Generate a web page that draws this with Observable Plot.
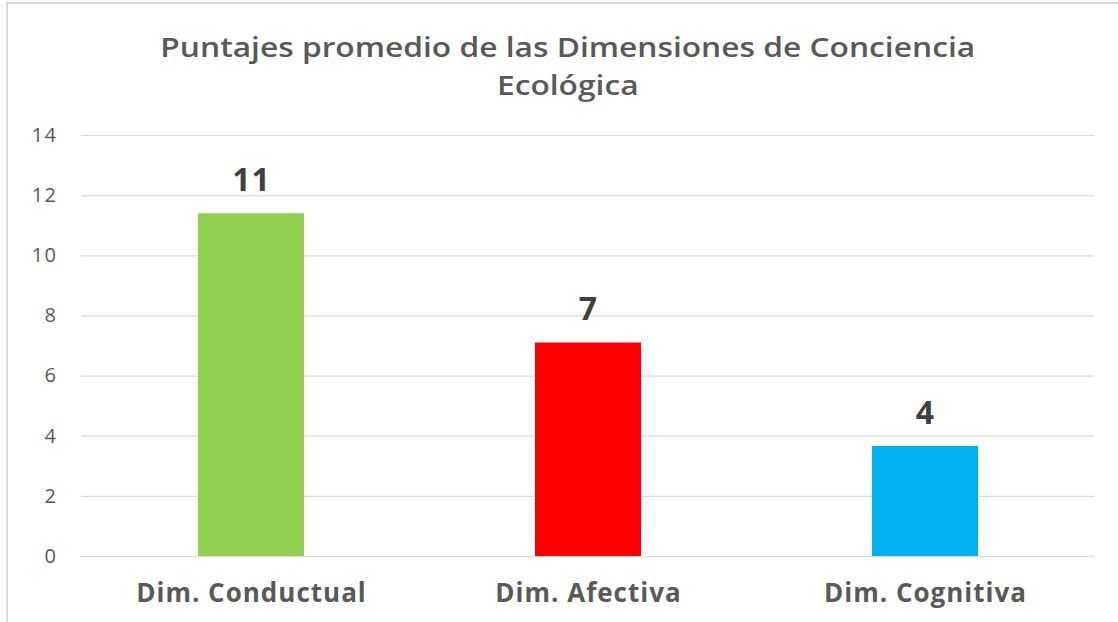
<!DOCTYPE html>
<html>
<head>
<meta charset="utf-8">
<script src="https://cdn.jsdelivr.net/npm/d3@7"></script>
<script src="https://cdn.jsdelivr.net/npm/@observablehq/plot@0.6"></script>
<style>
  html, body { margin: 0; padding: 0; background: #fff; overflow: hidden; }
  #frame { position: absolute; left: 6px; top: 2px; width: 1200px; height: 700px;
           border-left: 2px solid #d9d9d9; border-top: 2px solid #d9d9d9; box-sizing: border-box; }
  #wrap { position: absolute; left: 0; top: 0; width: 1118px; height: 622px; }
  #title { height: 115px; box-sizing: border-box; padding-top: 28px; text-align: center;
           font-family: "Open Sans", sans-serif; font-weight: 600; font-size: 27px;
           line-height: 38px; color: #595959; padding-left: 18px; }
  #title span { display: inline-block; transform: scaleX(1.175); }
  g[aria-label="y-axis tick label"] text { letter-spacing: 1.5px; }
  g[aria-label="x-axis tick label"] text { letter-spacing: 1px; }
  g[aria-label="text"] text { letter-spacing: 1px; }
</style>
</head>
<body>
<div id="frame"></div>
<div id="wrap">
  <div id="title"><span>Puntajes promedio de las Dimensiones de Conciencia<br>Ecológica</span></div>
  <div id="chart"></div>
</div>
<script>
const categories = ["Dim. Conductual", "Dim. Afectiva", "Dim. Cognitiva"];
const values = [11.4, 7.1, 3.66];
const valueLabels = ["11", "7", "4"];
const colors = ["#92D050", "#FF0000", "#00B0F0"];
const yTicks = [0, 2, 4, 6, 8, 10, 12, 14];

const data = categories.map((c, i) => ({ cat: c, value: values[i], label: valueLabels[i], color: colors[i] }));

const chart = Plot.plot({
  width: 1118,
  height: 507,
  marginTop: 20,
  marginBottom: 66,
  marginLeft: 81,
  marginRight: 24,
  style: { fontFamily: "Open Sans, sans-serif", background: "transparent", overflow: "visible" },
  x: { domain: categories, paddingInner: 0.686, paddingOuter: 0.343, label: null },
  y: { domain: [0, 14], ticks: yTicks, label: null },
  marks: [
    Plot.gridY(yTicks, { stroke: "#d9d9d9", strokeOpacity: 1, strokeWidth: 1.2 }),
    Plot.barY(data, { x: "cat", y: "value", fill: "color" }),
    Plot.text(data, { x: "cat", y: "value", text: "label", dy: -33, lineAnchor: "middle",
      fontSize: 32, fontWeight: "bold", fill: "#404040" }),
    Plot.axisY({ ticks: yTicks, tickSize: 0, tickPadding: 24, fontSize: 20, fill: "#595959",
      label: null, tickFormat: d => String(d) }),
    Plot.axisX({ tickSize: 0, tickPadding: 27, fontSize: 26, fontWeight: "bold", fill: "#595959", label: null })
  ]
});
document.getElementById("chart").appendChild(chart);
</script>
</body>
</html>
